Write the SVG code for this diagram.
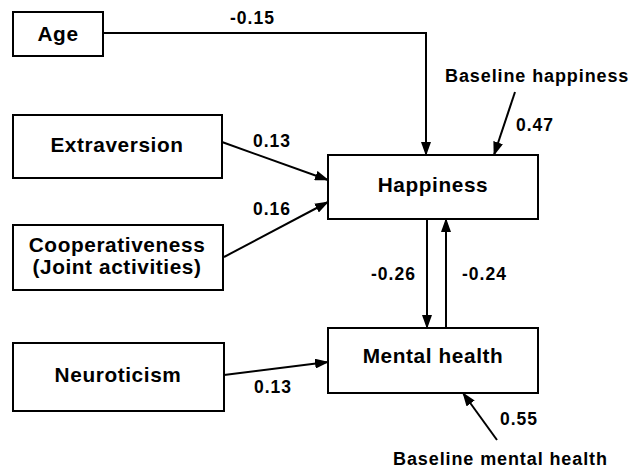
<svg xmlns="http://www.w3.org/2000/svg" width="630" height="468" viewBox="0 0 630 468">
<style>
.box{fill:#fff;stroke:#000;stroke-width:2}
.lbl{font-family:"Liberation Sans",Arial,sans-serif;font-weight:bold;font-size:20.8px;fill:#000;text-anchor:middle;letter-spacing:0.6px}
.num{font-family:"Liberation Sans",Arial,sans-serif;font-weight:bold;font-size:17.5px;fill:#000;letter-spacing:1px}
.ext{font-family:"Liberation Sans",Arial,sans-serif;font-weight:bold;font-size:18px;fill:#000;letter-spacing:0.9px}
.edge{stroke:#000;stroke-width:2;fill:none;marker-end:url(#ah)}
</style>
<defs>
<marker id="ah" markerWidth="14" markerHeight="10" refX="13" refY="5" orient="auto" markerUnits="userSpaceOnUse">
<path d="M0,0 L14,5 L0,10 Z" fill="#000"/>
</marker>
</defs>
<g id="connectors">
<polyline class="edge" points="103,33 426,33 426,155"/>
<line class="edge" x1="515" y1="92" x2="494" y2="155"/>
<line class="edge" x1="222" y1="142" x2="328" y2="180"/>
<line class="edge" x1="224" y1="257" x2="328" y2="202"/>
<line class="edge" x1="427" y1="219" x2="427" y2="328"/>
<line class="edge" x1="446" y1="328" x2="446" y2="219"/>
<line class="edge" x1="224" y1="375" x2="328" y2="362"/>
<line class="edge" x1="497" y1="440" x2="463" y2="393"/>
<text class="num" x="230" y="24">-0.15</text>
<text class="num" x="253" y="147">0.13</text>
<text class="num" x="253" y="215">0.16</text>
<text class="num" x="516" y="131">0.47</text>
<text class="num" x="371" y="280">-0.26</text>
<text class="num" x="462" y="280">-0.24</text>
<text class="num" x="254" y="393">0.13</text>
<text class="num" x="500" y="425">0.55</text>
<text class="ext" x="445" y="82">Baseline happiness</text>
<text class="ext" x="393" y="465">Baseline mental health</text>
</g>
<g id="age"><rect class="box" x="13" y="12" width="90" height="44"/><text class="lbl" x="58" y="41">Age</text></g>
<g id="extraversion"><rect class="box" x="13" y="115" width="209" height="63"/><text class="lbl" x="117" y="152">Extraversion</text></g>
<g id="cooperativeness"><rect class="box" x="13" y="225" width="210" height="65"/><text class="lbl" x="117" y="252">Cooperativeness</text><text class="lbl" x="117" y="274">(Joint activities)</text></g>
<g id="neuroticism"><rect class="box" x="13" y="343" width="211" height="68"/><text class="lbl" x="118" y="382">Neuroticism</text></g>
<g id="happiness"><rect class="box" x="328" y="155" width="210" height="64"/><text class="lbl" x="433" y="192">Happiness</text></g>
<g id="mental-health"><rect class="box" x="328" y="328" width="210" height="65"/><text class="lbl" x="433" y="363">Mental health</text></g>
</svg>
